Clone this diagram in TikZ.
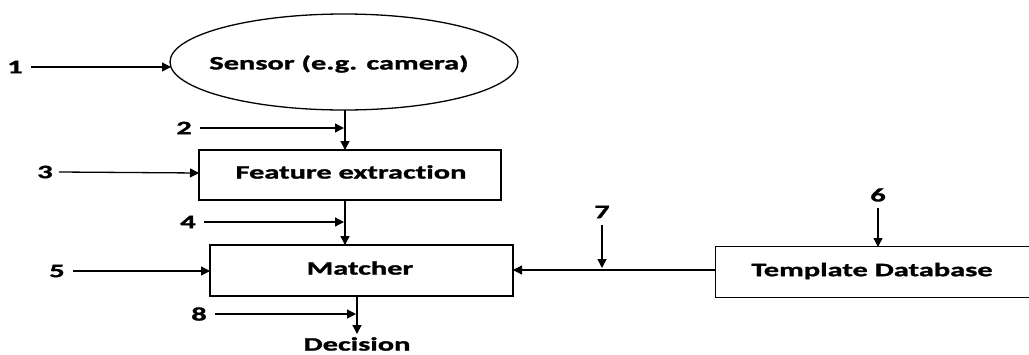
\documentclass[tikz,border=0pt]{standalone}
\usepackage{fontspec}
\newfontfamily\diagfont[FakeStretch=1.6,FakeBold=1.5,Ligatures=NoCommon]{Carlito Bold}
\usetikzlibrary{shapes.geometric,arrows.meta}
\begin{document}
\begin{tikzpicture}[x=1pt,y=-1pt,
  lbl/.style={font=\diagfont\fontsize{19}{19}\selectfont, inner sep=0pt},
  num/.style={font=\diagfont\fontsize{19}{19}\selectfont, inner sep=0pt},
  boxnode/.style={draw, line width=1.3pt, inner sep=0pt},
  arr/.style={line width=1.3pt, -{Triangle[length=9pt,width=9pt]}},
  ln/.style={line width=1.3pt}]
\useasboundingbox (0,0) rectangle (1029,354);
% main shapes
\node[boxnode, ellipse, minimum width=348pt, minimum height=96pt] (sensor) at (344,62) {};
\node[lbl] (sensortxt) at (339,64) {Sensor (e.g. camera)};
\node[boxnode, minimum width=302pt, minimum height=50pt] (feat) at (350,175) {};
\node[lbl] (feattxt) at (351,172) {Feature extraction};
\node[boxnode, minimum width=303pt, minimum height=51pt] (match) at (361.5,270.5) {};
\node[lbl] (matchtxt) at (360,268) {Matcher};
\node[inner sep=0pt, minimum width=360pt, minimum height=50pt] (tmpl) at (896,272) {};
\draw[ln] (tmpl.north east) -- (tmpl.north west) -- (tmpl.south west) -- (tmpl.south east);
\node[lbl] (tmpltxt) at (872,271) {Template Database};
\node[lbl] (dec) at (357,344) {Decision};
% connection points
\coordinate (sb) at (345,110);
\coordinate (ft) at (345,150);
\coordinate (fb) at (345,200);
\coordinate (mt) at (345,245);
\coordinate (mb) at (357,296);
\coordinate (dt) at (357,334);
\coordinate (p1) at (171,67);
\coordinate (p2) at (344,128);
\coordinate (p3) at (199,173);
\coordinate (p4) at (344,222);
\coordinate (p5) at (210,271);
\coordinate (p6) at (878,247);
\coordinate (p7) at (602,268);
\coordinate (p8) at (356,314);
\coordinate (tw) at (716,270);
\coordinate (me) at (513,270);
% main flow
\draw[arr] (sb) -- (ft);
\draw[arr] (fb) -- (mt);
\draw[arr] (mb) -- (dt);
\draw[arr] (tw) -- (me);
% numbered inputs
\node[num] (n1) at (15,67) {1};
\node[num] (n2) at (184,128) {2};
\node[num] (n3) at (45,172) {3};
\node[num] (n4) at (188,222) {4};
\node[num] (n5) at (57,271) {5};
\node[num] (n6) at (878,195) {6};
\node[num] (n7) at (602,212) {7};
\node[num] (n8) at (199,314) {8};
\draw[arr] ([xshift=8pt]n1.east) -- (p1);
\draw[arr] ([xshift=8pt]n2.east) -- (p2);
\draw[arr] ([xshift=6pt]n3.east) -- (p3);
\draw[arr] ([xshift=8pt]n4.east) -- (p4);
\draw[arr] ([xshift=8pt]n5.east) -- (p5);
\draw[arr] ([yshift=-6pt]n6.south) -- (p6);
\draw[arr] ([yshift=-7pt]n7.south) -- (p7);
\draw[arr] ([xshift=8pt]n8.east) -- (p8);
\end{tikzpicture}
\end{document}
